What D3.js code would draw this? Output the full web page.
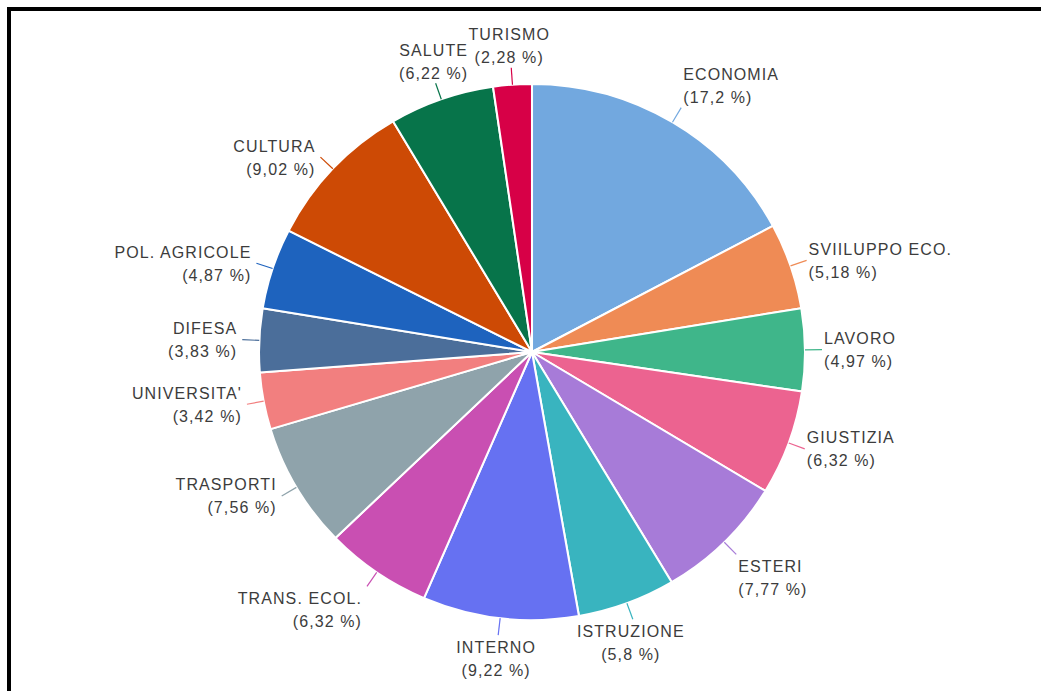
<!DOCTYPE html>
<html>
<head>
<meta charset="utf-8">
<script src="https://cdn.jsdelivr.net/npm/d3@7"></script>
<style>
  body { margin: 0; background: #ffffff; }
  svg { display: block; }
  .lbl { font-family: "Liberation Sans", Arial, sans-serif; font-size: 16px; fill: #3c3c3c; letter-spacing: 1.1px; }
</style>
</head>
<body>
<svg id="chart" width="1041" height="691"></svg>
<script>
// Budget share by ministry (percent), clockwise from 12 o'clock
const categories = [
  "ECONOMIA", "SVIILUPPO ECO.", "LAVORO", "GIUSTIZIA", "ESTERI",
  "ISTRUZIONE", "INTERNO", "TRANS. ECOL.", "TRASPORTI", "UNIVERSITA'",
  "DIFESA", "POL. AGRICOLE", "CULTURA", "SALUTE", "TURISMO"
];
const shares = [17.2, 5.18, 4.97, 6.32, 7.77, 5.8, 9.22, 6.32, 7.56, 3.42, 3.83, 4.87, 9.02, 6.22, 2.28];
const sliceColors = [
  "#72a8df", "#ef8b55", "#3fb68a", "#ec6390", "#a77bd8",
  "#39b4bf", "#6671f2", "#c94fb2", "#8fa3ab", "#f27f7f",
  "#4b6e9a", "#1e63be", "#cd4a05", "#07744a", "#d70047"
];

const svg = d3.select("#chart");
const W = 1041, H = 691;

// Frame along the top and left edges
svg.append("path")
  .attr("d", `M9,${H} L9,9 L${W},9`)
  .attr("fill", "none")
  .attr("stroke", "#000")
  .attr("stroke-width", 4);

const cx = 532, cy = 352;
const rx = 273, ry = 268;   // slightly wider than tall
const leader = 17;

const data = categories.map((c, i) => ({ name: c, value: shares[i], color: sliceColors[i] }));

const pie = d3.pie().value(d => d.value).sort(null);
const arcs = pie(data);
const arc = d3.arc().innerRadius(0).outerRadius(ry);

const g = svg.append("g")
  .attr("transform", `translate(${cx},${cy}) scale(${rx / ry},1)`);

g.selectAll("path.slice")
  .data(arcs)
  .join("path")
  .attr("class", "slice")
  .attr("d", arc)
  .attr("fill", d => d.data.color)
  .attr("stroke", "#ffffff")
  .attr("stroke-width", 2)
  .attr("stroke-linejoin", "round");

const fmt = v => String(v).replace(".", ",");

// Leader lines and labels
arcs.forEach(a => {
  const th = (a.startAngle + a.endAngle) / 2;
  const s = Math.sin(th), c = Math.cos(th);
  const x0 = cx + rx * s, y0 = cy - ry * c;
  const x1 = cx + (rx + leader) * s, y1 = cy - (ry + leader) * c;

  svg.append("line")
    .attr("x1", x0).attr("y1", y0)
    .attr("x2", x1).attr("y2", y1)
    .attr("stroke", a.data.color)
    .attr("stroke-width", 1.2);

  let anchor, tx;
  if (Math.abs(s) < 0.4) { anchor = "middle"; tx = x1 - 2; }
  else if (s > 0) { anchor = "start"; tx = x1 + 2; }
  else { anchor = "end"; tx = x1 - 5; }

  let yc = y1;
  if (c > 0.69) yc = y1 - 22;
  else if (c < -0.69) yc = y1 + 23;

  const t = svg.append("text")
    .attr("class", "lbl")
    .attr("text-anchor", anchor);
  t.append("tspan").attr("x", tx).attr("y", yc - 11.5 + 6).text(a.data.name);
  t.append("tspan").attr("x", tx).attr("y", yc + 11.5 + 6).text(`(${fmt(a.data.value)} %)`);
});
</script>
</body>
</html>
